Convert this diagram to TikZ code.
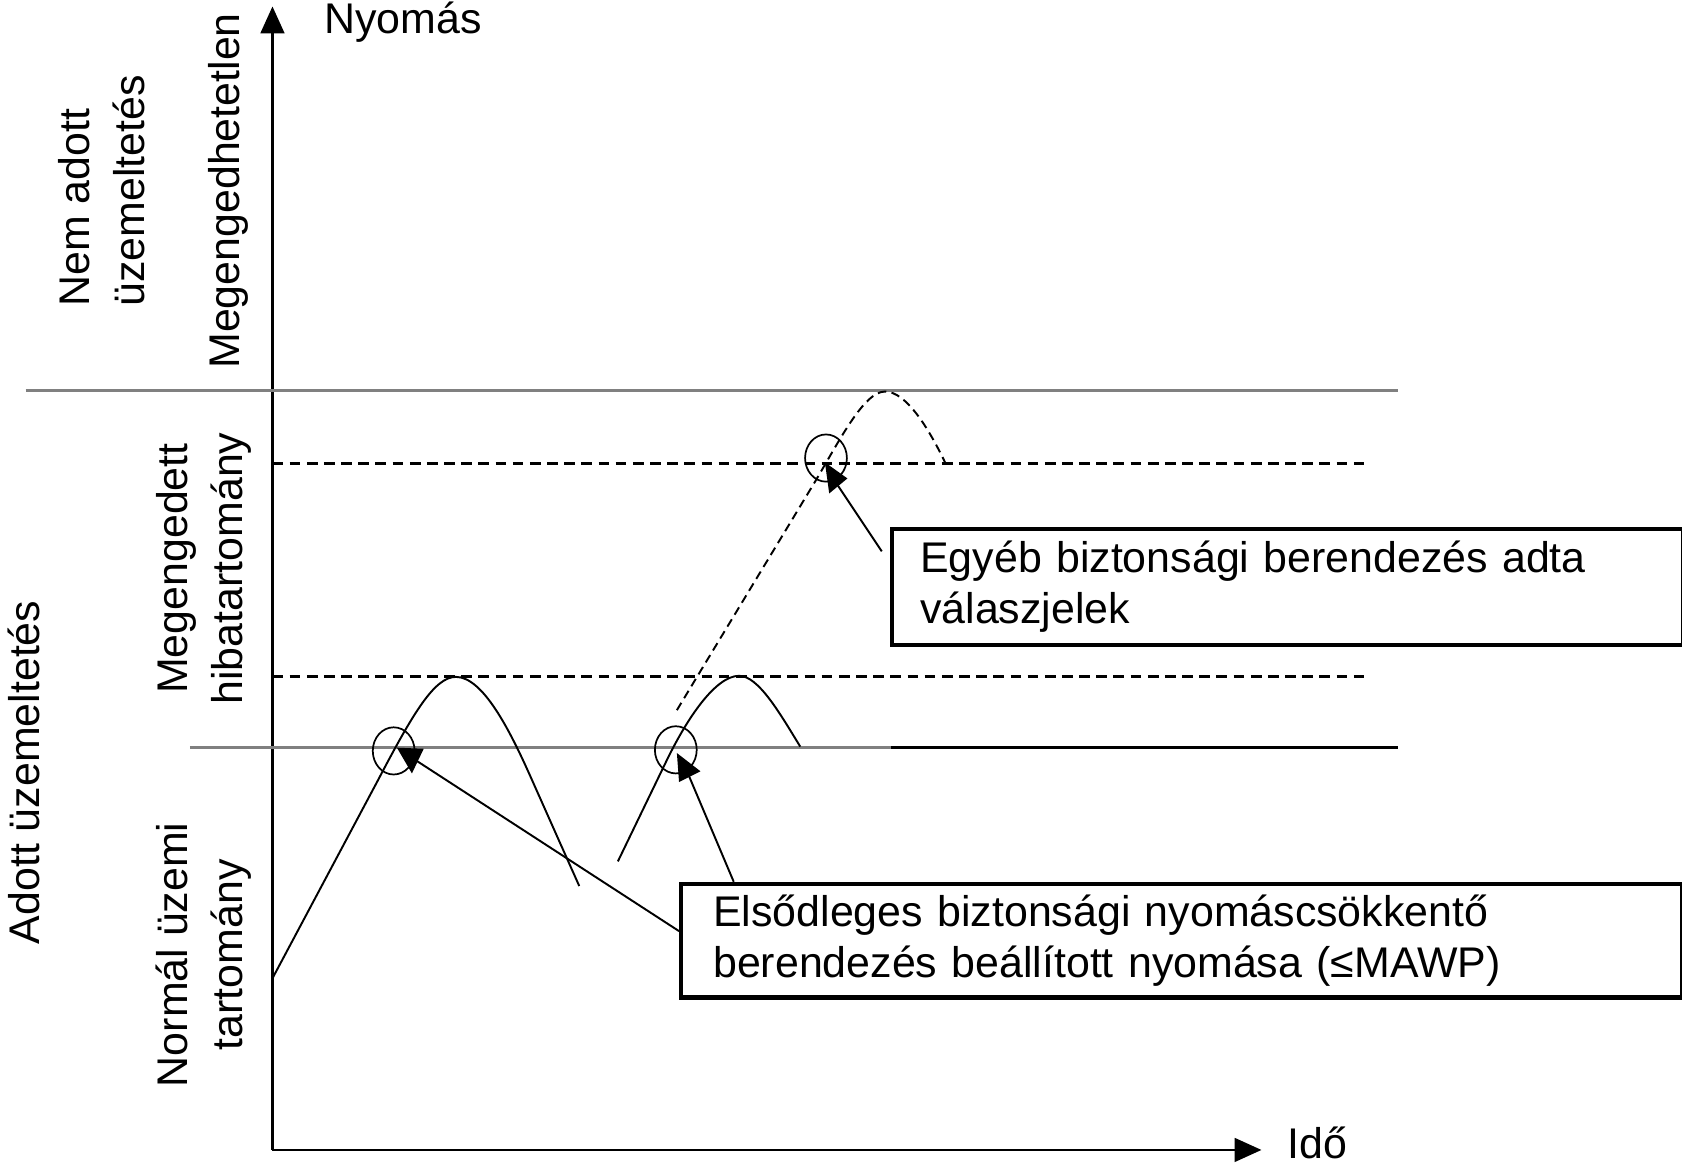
\documentclass[tikz,border=0pt]{standalone}
\usepackage{fontspec}
\setmainfont{Liberation Sans}
\usetikzlibrary{arrows.meta,shapes.geometric}
\begin{document}
\begin{tikzpicture}[x=0.5pt,y=-0.5pt,
  lbl/.style={font=\fontsize{20}{24}\selectfont, inner sep=0pt},
  rlbl/.style={font=\fontsize{20}{25.5}\selectfont, inner sep=0pt, rotate=90, align=center},
  axis/.style={line width=1.2pt, -{Triangle[length=12.5pt,width=11pt]}},
  level/.style={line width=1.4pt, draw=black!50},
  levelk/.style={line width=1.4pt, draw=black},
  limit/.style={line width=1.4pt, dash pattern=on 5pt off 3pt},
  curve/.style={line width=0.9pt},
  dcurve/.style={line width=0.9pt, dash pattern=on 4pt off 2.5pt},
  ring/.style={ellipse, draw, line width=0.8pt, minimum width=19.5pt, minimum height=22pt, inner sep=0pt},
  callout/.style={line width=0.9pt},
  head/.style={fill=black},
  infobox/.style={draw, line width=1.9pt, font=\fontsize{20}{24}\selectfont, align=left, anchor=north west, inner ysep=0pt}
]
\useasboundingbox (0,0) rectangle (1568,1087);

% axes
\coordinate (O) at (254,1072);
\coordinate (Ytop) at (254,6);
\coordinate (Xend) at (1176,1072);
\draw[axis] (O) -- (Ytop);
\draw[axis] (O) -- (Xend);
\node[lbl, anchor=base west] (ny) at (302,31) {Nyomás};
\node[lbl, anchor=base west] (ido) at (1200,1080) {Idő};

% levels
\coordinate (g1a) at (24,364);  \coordinate (g1b) at (1303,364);
\coordinate (d1a) at (254,432); \coordinate (d1b) at (1274,432);
\coordinate (d2a) at (254,631); \coordinate (d2b) at (1274,631);
\coordinate (g2a) at (177,697); \coordinate (g2m) at (831,697); \coordinate (g2b) at (1303,697);
\draw[level] (g1a) -- (g1b);
\draw[limit] (d1a) -- (d1b);
\draw[limit] (d2a) -- (d2b);
\draw[level] (g2a) -- (g2m);
\draw[levelk] (g2m) -- (g2b);

% pressure curves
\draw[curve] (254,912) -- (352,728) .. controls (385,665) and (405,631) .. (425,631)
  .. controls (450,631) and (475,680) .. (495,725) -- (540,826);
\draw[curve] (576,803) -- (620,712) .. controls (640,670) and (667,630) .. (689,630)
  .. controls (707,630) and (727,665) .. (746,696);
\draw[dcurve] (631,662) -- (758,452) .. controls (782,412) and (805,365) .. (825,365)
  .. controls (845,365) and (866,400) .. (881,431);

% circles
\node[ring] (c1) at (367,700) {};
\node[ring] (c2) at (630,699) {};
\node[ring] (c3) at (770,427) {};

% boxes
\node[infobox, minimum width=368.5pt, minimum height=54pt, text width=342.5pt, inner xsep=13pt] (b1) at (830,491)
  {Egyéb biztonsági berendezés adta\\válaszjelek};
\node[infobox, minimum width=466.5pt, minimum height=53pt, text width=436.5pt, inner xsep=15pt] (b2) at (633,822)
  {Elsődleges biztonsági nyomáscsökkentő\\berendezés beállított nyomása (≤MAWP)};

% callouts with their heads
\coordinate (s1) at (633,868); \coordinate (t1) at (388,709);
\coordinate (s2) at (684,822); \coordinate (t2) at (640,718);
\coordinate (s3) at (822,514); \coordinate (t3) at (778,448);
\draw[callout] (s1) -- (t1);
\draw[callout] (s2) -- (t2);
\draw[callout] (s3) -- (t3);
\coordinate (h1a) at (370,697); \coordinate (h1b) at (395,698); \coordinate (h1c) at (384,721);
\coordinate (h2a) at (631,702); \coordinate (h2b) at (653,719); \coordinate (h2c) at (633,729);
\coordinate (h3a) at (769,431); \coordinate (h3b) at (790,446); \coordinate (h3c) at (773,460);
\fill[head] (h1a) -- (h1b) -- (h1c) -- cycle;
\fill[head] (h2a) -- (h2b) -- (h2c) -- cycle;
\fill[head] (h3a) -- (h3b) -- (h3c) -- cycle;

% side labels
\node[rlbl, align=left] (na) at (95,178) {Nem adott\\üzemeltetés};
\node[rlbl] (mh) at (213,178) {Megengedhetetlen};
\node[rlbl] (mg) at (190,530) {Megengedett\\hibatartomány};
\node[rlbl] (au) at (22,720) {Adott üzemeltetés};
\node[rlbl] (nu) at (190,890) {Normál üzemi\\tartomány};
\end{tikzpicture}
\end{document}
